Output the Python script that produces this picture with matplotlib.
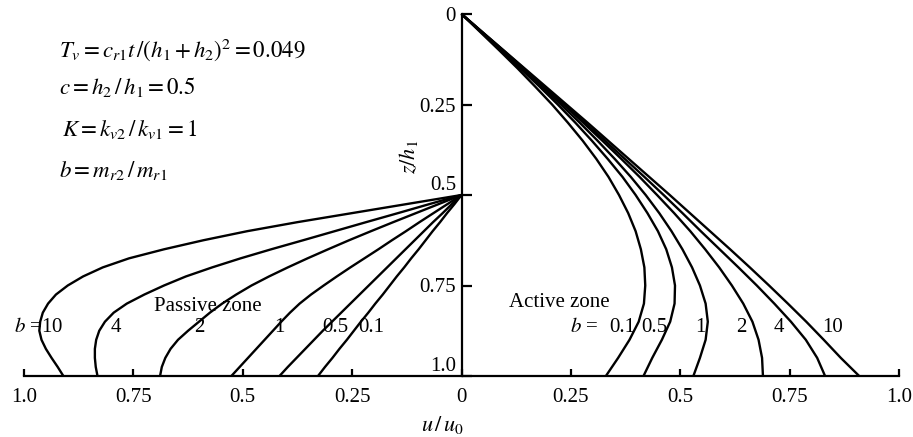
import numpy as np
import matplotlib
matplotlib.use("Agg")
import matplotlib.pyplot as plt

plt.rcParams['font.family'] = 'Liberation Serif'
plt.rcParams['mathtext.fontset'] = 'stix'

# active zone: depth z/h1 from 0 to 1, displacement u/u0 for each b
b_labels = ['0.1', '0.5', '1', '2', '4', '10']
z_active = [0.0, 0.05, 0.1, 0.15, 0.2, 0.25, 0.3, 0.35, 0.4, 0.45, 0.5,
            0.55, 0.6, 0.65, 0.7, 0.75, 0.8, 0.85, 0.9, 0.95, 1.0]
u_active_01 = [0, 0.043, 0.086, 0.128, 0.168, 0.207, 0.243, 0.277, 0.308, 0.336, 0.36,
               0.381, 0.398, 0.41, 0.418, 0.42, 0.417, 0.405, 0.384, 0.358, 0.33]
u_active_05 = [0, 0.045, 0.09, 0.134, 0.178, 0.22, 0.26, 0.298, 0.334, 0.368, 0.398,
               0.425, 0.449, 0.468, 0.481, 0.488, 0.487, 0.477, 0.458, 0.436, 0.416]
u_active_1 = [0, 0.046, 0.092, 0.138, 0.183, 0.227, 0.27, 0.311, 0.35, 0.387, 0.421,
              0.452, 0.48, 0.505, 0.527, 0.545, 0.558, 0.563, 0.558, 0.545, 0.53]
u_active_2 = [0, 0.047, 0.094, 0.141, 0.187, 0.233, 0.278, 0.322, 0.365, 0.407, 0.447,
              0.486, 0.523, 0.557, 0.589, 0.618, 0.644, 0.665, 0.679, 0.687, 0.689]
u_active_4 = [0, 0.047, 0.095, 0.142, 0.189, 0.236, 0.282, 0.328, 0.373, 0.418, 0.462,
              0.505, 0.547, 0.59, 0.633, 0.675, 0.715, 0.753, 0.787, 0.813, 0.831]
u_active_10 = [0, 0.048, 0.096, 0.144, 0.192, 0.24, 0.288, 0.335, 0.382, 0.429, 0.476,
               0.522, 0.568, 0.614, 0.659, 0.703, 0.746, 0.788, 0.828, 0.867, 0.909]

# passive zone: starts at z/h1 = 0.5
z_passive = [0.5, 0.525, 0.55, 0.575, 0.6, 0.625, 0.65, 0.675, 0.7, 0.725, 0.75,
             0.775, 0.8, 0.825, 0.85, 0.875, 0.9, 0.925, 0.95, 0.975, 1.0]
u_passive_01 = [0, 0.016, 0.033, 0.049, 0.066, 0.082, 0.098, 0.115, 0.131, 0.148, 0.164,
                0.18, 0.197, 0.213, 0.23, 0.246, 0.262, 0.279, 0.295, 0.312, 0.328]
u_passive_05 = [0, 0.022, 0.043, 0.065, 0.086, 0.107, 0.128, 0.149, 0.17, 0.191, 0.212,
                0.233, 0.254, 0.275, 0.296, 0.317, 0.337, 0.357, 0.377, 0.397, 0.416]
u_passive_1 = [0, 0.032, 0.064, 0.096, 0.127, 0.159, 0.19, 0.222, 0.254, 0.285, 0.315,
               0.344, 0.37, 0.392, 0.412, 0.431, 0.45, 0.469, 0.488, 0.507, 0.526]
u_passive_2 = [0, 0.052, 0.104, 0.156, 0.207, 0.257, 0.305, 0.352, 0.397, 0.44, 0.48,
               0.515, 0.547, 0.575, 0.6, 0.625, 0.648, 0.665, 0.677, 0.685, 0.689]
u_passive_4 = [0, 0.073, 0.145, 0.218, 0.29, 0.362, 0.435, 0.505, 0.57, 0.63, 0.68,
               0.725, 0.765, 0.795, 0.815, 0.828, 0.835, 0.838, 0.838, 0.836, 0.832]
u_passive_10 = [0, 0.125, 0.25, 0.375, 0.49, 0.59, 0.68, 0.76, 0.82, 0.865, 0.9,
                0.927, 0.945, 0.957, 0.963, 0.965, 0.96, 0.95, 0.937, 0.923, 0.91]

active = [u_active_01, u_active_05, u_active_1, u_active_2, u_active_4, u_active_10]
passive = [u_passive_01, u_passive_05, u_passive_1, u_passive_2, u_passive_4, u_passive_10]

x_ticks = [-1.0, -0.75, -0.5, -0.25, 0, 0.25, 0.5, 0.75, 1.0]
x_ticklabels = ['1.0', '0.75', '0.5', '0.25', '0', '0.25', '0.5', '0.75', '1.0']
y_ticks = [0, 0.25, 0.5, 0.75, 1.0]
y_ticklabels = ['0', '0.25', '0.5', '0.75', '1.0']

fig = plt.figure(figsize=(9.13, 4.37), dpi=100)
ax = fig.add_axes([24 / 913, 61 / 437, 875 / 913, 362 / 437])

for u in active:
    ax.plot(u, z_active, color='black', lw=1.7, clip_on=False, solid_capstyle='butt')
for u in passive:
    ax.plot(-np.array(u), z_passive, color='black', lw=1.7, clip_on=False, solid_capstyle='butt')

ax.set_xlim(-1.0, 1.0)
ax.set_ylim(1.0, 0.0)

for s in ['top', 'right']:
    ax.spines[s].set_visible(False)
ax.spines['left'].set_position(('data', 0))
ax.spines['left'].set_linewidth(1.6)
ax.spines['bottom'].set_linewidth(1.6)

ax.set_xticks(x_ticks)
ax.set_xticklabels(x_ticklabels)
ax.set_yticks(y_ticks)
ax.set_yticklabels(y_ticklabels)
ax.tick_params(axis='x', direction='in', length=5, width=1.6, pad=9, labelsize=15)
ax.tick_params(axis='y', direction='in', length=7, width=1.6, pad=4, labelsize=15)
ylabs = ax.get_yticklabels()
ylabs[2].set_verticalalignment('bottom')
ylabs[-1].set_verticalalignment('bottom')

ax.text(-0.122, 0.395, r'$z/h_1$', rotation=90, ha='center', va='center', fontsize=16)
ax.text(-0.043, 1.135, r'$u\,/\,u_0$', ha='center', va='center', fontsize=16)

# parameter block
fs = 16.5
ax.text(-0.921, 0.099, r'$T_v=c_{r1}t\,/\left(h_1+h_2\right)^2=0.049$', ha='left', va='center', fontsize=fs)
ax.text(-0.921, 0.202, r'$c=h_2\,/\,h_1=0.5$', ha='left', va='center', fontsize=fs)
ax.text(-0.912, 0.32, r'$K=k_{v2}\,/\,k_{v1}=1$', ha='left', va='center', fontsize=fs)
ax.text(-0.921, 0.431, r'$b=m_{r2}\,/\,m_{r1}$', ha='left', va='center', fontsize=fs)

# zone labels
ax.text(-0.579, 0.807, 'Passive zone', ha='center', va='center', fontsize=15)
ax.text(0.224, 0.796, 'Active zone', ha='center', va='center', fontsize=15)

lab_z = 0.867
ax.text(-1.024, lab_z, r'$b$ =10', ha='left', va='center', fontsize=15)
for lab, xp in zip(['4', '2', '1', '0.5', '0.1'], [-0.791, -0.599, -0.416, -0.289, -0.207]):
    ax.text(xp, lab_z, lab, ha='center', va='center', fontsize=15)

ax.text(0.28, lab_z, r'$b$ =', ha='center', va='center', fontsize=15)
for lab, xp in zip(b_labels, [0.367, 0.44, 0.546, 0.64, 0.725, 0.849]):
    ax.text(xp, lab_z, lab, ha='center', va='center', fontsize=15)

fig.savefig('out.png', dpi=100)
